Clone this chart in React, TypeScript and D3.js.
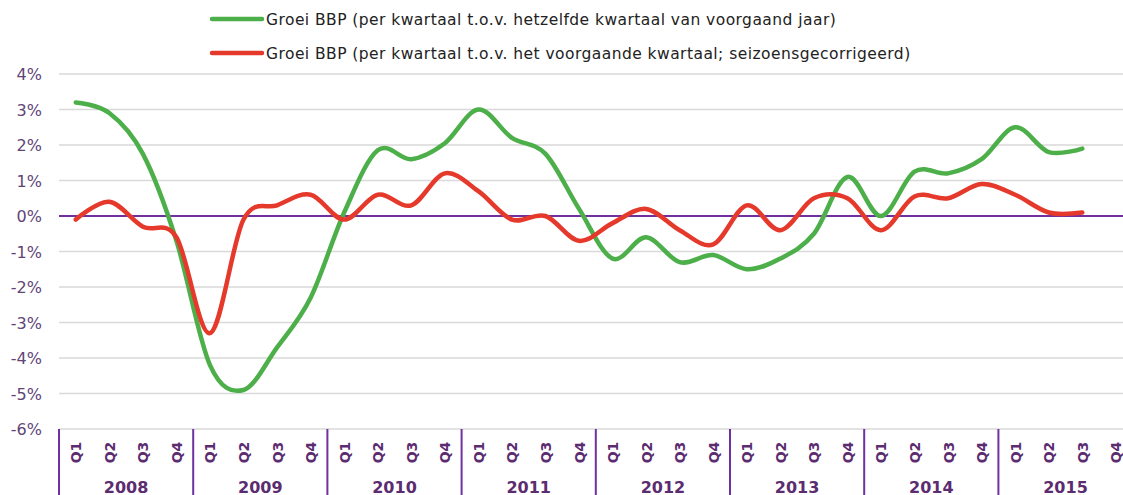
import React, { useRef, useEffect } from "react";
import * as d3 from "d3";

// GDP growth per quarter (%), 2008 Q1 .. 2015 Q3
const years = ["2008", "2009", "2010", "2011", "2012", "2013", "2014", "2015"];
const quarterNames = ["Q1", "Q2", "Q3", "Q4"];
const yoyGrowth = [
  3.2, 2.9, 1.75, -0.7,
  -4.2, -4.9, -3.7, -2.3,
  0.1, 1.85, 1.6, 2.05,
  3.0, 2.2, 1.75, 0.2,
  -1.2, -0.6, -1.3, -1.1,
  -1.5, -1.2, -0.5, 1.1,
  0.0, 1.25, 1.2, 1.6,
  2.5, 1.8, 1.9,
];
const qoqGrowth = [
  -0.1, 0.4, -0.3, -0.6,
  -3.3, -0.1, 0.3, 0.6,
  -0.1, 0.6, 0.3, 1.2,
  0.7, -0.1, 0.0, -0.7,
  -0.2, 0.2, -0.4, -0.8,
  0.3, -0.4, 0.5, 0.5,
  -0.4, 0.55, 0.5, 0.9,
  0.6, 0.1, 0.1,
];
const yTicks = [4, 3, 2, 1, 0, -1, -2, -3, -4, -5, -6];
const seriesNames = [
  "Groei BBP (per kwartaal t.o.v. hetzelfde kwartaal van voorgaand jaar)",
  "Groei BBP (per kwartaal t.o.v. het voorgaande kwartaal; seizoensgecorrigeerd)",
];
const seriesColors = ["#4caf4a", "#e5392c"];

const App = () => {
  const svgRef = useRef<SVGSVGElement>(null);

  useEffect(() => {
    const svg = d3.select(svgRef.current);
    svg.selectAll("*").remove();

    const width = 1123;
    const height = 495;
    const left = 59;
    const step = 33.55;
    const font = "Verdana, 'DejaVu Sans', sans-serif";

    const keys = years.flatMap((y) => quarterNames.map((q) => `${y}-${q}`));

    const x = d3
      .scaleBand()
      .domain(keys)
      .range([left, left + keys.length * step])
      .padding(0);

    const y = d3.scaleLinear().domain([-6, 4]).range([429, 74]);

    // gridlines
    svg
      .append("g")
      .selectAll("line")
      .data(yTicks.filter((t) => t !== 0))
      .enter()
      .append("line")
      .attr("x1", left)
      .attr("x2", width)
      .attr("y1", (d) => y(d))
      .attr("y2", (d) => y(d))
      .attr("stroke", "#d9d9d9")
      .attr("stroke-width", 1.5);

    // y labels
    svg
      .append("g")
      .selectAll("text")
      .data(yTicks)
      .enter()
      .append("text")
      .attr("x", 42)
      .attr("y", (d) => y(d) + 6)
      .attr("text-anchor", "end")
      .attr("fill", "#5f4577")
      .style("font-family", font)
      .style("font-size", "16px")
      .text((d) => `${d}%`);

    // zero line
    svg
      .append("line")
      .attr("x1", left)
      .attr("x2", width)
      .attr("y1", y(0))
      .attr("y2", y(0))
      .attr("stroke", "#7030a0")
      .attr("stroke-width", 2);

    // year separators
    svg
      .append("g")
      .selectAll("line")
      .data(years.concat(["end"]))
      .enter()
      .append("line")
      .attr("x1", (d, i) => left + i * 4 * x.bandwidth())
      .attr("x2", (d, i) => left + i * 4 * x.bandwidth())
      .attr("y1", y(-6))
      .attr("y2", height)
      .attr("stroke", "#7030a0")
      .attr("stroke-width", 2);

    // quarter labels
    svg
      .append("g")
      .selectAll("text")
      .data(keys)
      .enter()
      .append("text")
      .attr(
        "transform",
        (d) => `translate(${x(d)! + x.bandwidth() / 2 + 5.5},452.5) rotate(-90)`
      )
      .attr("text-anchor", "middle")
      .attr("fill", "#5b2c6f")
      .style("font-family", font)
      .style("font-size", "14px")
      .style("font-weight", "bold")
      .text((d) => d.split("-")[1]);

    // year labels
    svg
      .append("g")
      .selectAll("text")
      .data(years)
      .enter()
      .append("text")
      .attr("x", (d) => x(`${d}-Q2`)! + x.bandwidth())
      .attr("y", 493)
      .attr("text-anchor", "middle")
      .attr("fill", "#5b2c6f")
      .style("font-family", font)
      .style("font-size", "16px")
      .style("font-weight", "bold")
      .text((d) => d);

    // lines
    const line = d3
      .line<number>()
      .x((d, i) => x(keys[i])! + x.bandwidth() / 2)
      .y((d) => y(d))
      .curve(d3.curveCardinal.tension(0));

    [yoyGrowth, qoqGrowth].forEach((values, i) => {
      svg
        .append("path")
        .datum(values)
        .attr("fill", "none")
        .attr("stroke", seriesColors[i])
        .attr("stroke-width", 4.5)
        .attr("stroke-linecap", "round")
        .attr("stroke-linejoin", "round")
        .attr("d", line);
    });

    // legend
    const legend = svg.append("g");
    seriesNames.forEach((name, i) => {
      const row = legend
        .append("g")
        .attr("transform", `translate(212, ${19 + i * 34})`);
      row
        .append("line")
        .attr("x1", 0)
        .attr("x2", 50)
        .attr("stroke", seriesColors[i])
        .attr("stroke-width", 4.5)
        .attr("stroke-linecap", "round");
      row
        .append("text")
        .attr("x", 54)
        .attr("y", 6)
        .attr("fill", "#222222")
        .style("font-family", font)
        .style("font-size", "15.5px")
        .style("letter-spacing", "0.45px")
        .text(name);
    });
  }, []);

  return (
    <svg
      ref={svgRef}
      width={1123}
      height={495}
      style={{ position: "absolute", left: 0, top: 0, background: "#fff" }}
    />
  );
};

export default App;
